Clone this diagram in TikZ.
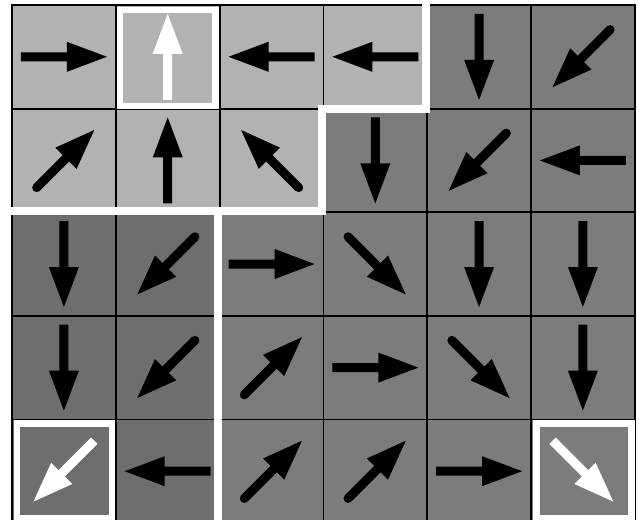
\documentclass[tikz,border=0pt]{standalone}
\definecolor{ca}{HTML}{B2B2B2}
\definecolor{cb}{HTML}{6E6E6E}
\definecolor{cc}{HTML}{7C7C7C}
\tikzset{
  gridline/.style={black, line width=1.8pt},
  sepline/.style={white, line width=8pt},
  hibox/.style={white, line width=6.5pt},
}
\newcommand\sarrow[4]{% row, col, angle, colour: flat tail
  \fill[#4, shift={({12+103.8*(#2+0.5)},{5+103.6*(#1+0.5)})}, rotate=#3]
    (-43,-4.5) -- (3,-4.5) -- (3,-15) -- (43,0) -- (3,15) -- (3,4.5) -- (-43,4.5) -- cycle;}
\newcommand\rarrow[4]{% row, col, angle, colour: round tail
  \fill[#4, shift={({12+103.8*(#2+0.5)},{5+103.6*(#1+0.5)})}, rotate=#3]
    (-38.5,-4.5) -- (3,-4.5) -- (3,-15) -- (43,0) -- (3,15) -- (3,4.5) -- (-38.5,4.5)
    arc[start angle=90, end angle=270, radius=4.5] -- cycle;}
\begin{document}
\begin{tikzpicture}[x=1pt,y=-1pt]
\useasboundingbox (0,0) rectangle (639,519);
\clip (0,0) rectangle (639,519);
\fill[white] (0,0) rectangle (639,519);
% cell fills
\foreach \r/\c/\k in {0/0/ca,0/1/ca,0/2/ca,0/3/ca,0/4/cc,0/5/cc,
                      1/0/ca,1/1/ca,1/2/ca,1/3/cc,1/4/cc,1/5/cc,
                      2/0/cb,2/1/cb,2/2/cc,2/3/cc,2/4/cc,2/5/cc,
                      3/0/cb,3/1/cb,3/2/cc,3/3/cc,3/4/cc,3/5/cc,
                      4/0/cb,4/1/cb,4/2/cc,4/3/cc,4/4/cc,4/5/cc}
  \fill[\k] ({12+103.8*\c},{5+103.6*\r}) rectangle ++(103.8,103.6);
% grid
\foreach \c in {0,...,6}
  \draw[gridline] ({12+103.8*\c},5) -- ({12+103.8*\c},530);
\foreach \r in {0,...,5}
  \draw[gridline] (11.1,{5+103.6*\r}) -- (635.7,{5+103.6*\r});
% region separators
\draw[sepline] (10,210.5) -- (321.8,210.5) -- (321.8,108.6) -- (425.6,108.6) -- (425.6,0);
\draw[sepline] (218,210.5) -- (218,530);
% highlighted cells
\draw[hibox] (120,10) rectangle (215.5,106);
\draw[hibox] (17,423.5) rectangle (112,518.5);
\draw[hibox] (536.5,423.5) rectangle (631.5,518.5);
% arrows
\foreach \r/\c/\a in {0/0/0,0/2/180,0/3/180,0/4/270,
                      1/1/90,1/3/270,1/5/180,
                      2/0/270,2/2/0,2/4/270,2/5/270,
                      3/0/270,3/3/0,3/5/270,
                      4/1/180,4/4/0}
  \sarrow{\r}{\c}{\a}{black};
\foreach \r/\c/\a in {0/5/225,1/0/45,1/2/135,1/4/225,
                      2/1/225,2/3/315,3/1/225,3/2/45,3/4/315,
                      4/2/45,4/3/45}
  \rarrow{\r}{\c}{\a}{black};
\sarrow{0}{1}{90}{white}
\sarrow{4}{0}{225}{white}
\sarrow{4}{5}{315}{white}
\end{tikzpicture}
\end{document}
